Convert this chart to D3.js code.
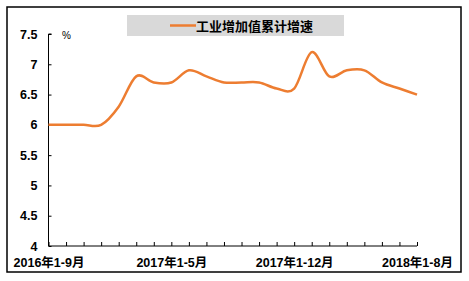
<!DOCTYPE html>
<html>
<head>
<meta charset="utf-8">
<script src="https://cdn.jsdelivr.net/npm/d3@7"></script>
<style>
  body { margin: 0; background: #fff; }
  svg { display: block; }
</style>
</head>
<body>
<svg></svg>
<script>
const w = 469;
const h = 281;

// data
const categories = [
    '2016年1-9月', '2016年1-10月', '2016年1-11月', '2016年1-12月',
    '2017年1-2月', '2017年1-3月', '2017年1-4月', '2017年1-5月', '2017年1-6月',
    '2017年1-7月', '2017年1-8月', '2017年1-9月', '2017年1-10月', '2017年1-11月',
    '2017年1-12月',
    '2018年1-2月', '2018年1-3月', '2018年1-4月', '2018年1-5月', '2018年1-6月',
    '2018年1-7月', '2018年1-8月'
];
const growth = [6.0, 6.0, 6.0, 6.0, 6.3, 6.8, 6.7, 6.7, 6.9, 6.8, 6.7, 6.7, 6.7, 6.6, 6.6,
    7.2, 6.8, 6.9, 6.9, 6.7, 6.6, 6.5];
const shownLabels = ['2016年1-9月', '2017年1-5月', '2017年1-12月', '2018年1-8月'];
const yTicks = [4, 4.5, 5, 5.5, 6, 6.5, 7, 7.5];
const seriesName = '工业增加值累计增速';

const color = '#ED7D31';
const font = 'Arial, "Liberation Sans", "Noto Sans CJK SC", sans-serif';

const svg = d3.select('svg')
    .attr('width', w)
    .attr('height', h);

// outer border
svg.append('rect')
    .attr('x', 7).attr('y', 7)
    .attr('width', 454).attr('height', 265)
    .attr('fill', 'none')
    .attr('stroke', '#000')
    .attr('stroke-width', 1.5);

// scales
const xScale = d3.scalePoint()
    .domain(categories)
    .range([48.5, 417]);

const yScale = d3.scaleLinear()
    .domain([4, 7.5])
    .range([246, 34]);

// y-axis
const yAxis = d3.axisRight(yScale)
    .tickValues(yTicks)
    .tickSize(3)
    .tickFormat(d => d3.format('')(d));

const gy = svg.append('g')
    .attr('transform', 'translate(48.5,0)')
    .call(yAxis);
gy.select('.domain').attr('d', 'M3,34H0V246').attr('stroke', '#000');
gy.selectAll('.tick line').attr('stroke', '#000');
gy.selectAll('.tick text')
    .attr('x', -11)
    .attr('text-anchor', 'end')
    .attr('font-family', font)
    .attr('font-size', 12.5)
    .attr('font-weight', 'bold')
    .attr('fill', '#000');

// x-axis
const xAxis = d3.axisTop(xScale)
    .tickSize(4)
    .tickFormat(d => shownLabels.includes(d) ? d : '');

const gx = svg.append('g')
    .attr('transform', 'translate(0,246)')
    .call(xAxis);
gx.select('.domain').attr('d', 'M48.5,0H417').attr('stroke', '#000');
gx.selectAll('.tick line').attr('stroke', '#000');
gx.selectAll('.tick text')
    .attr('y', 17)
    .attr('dy', '0.32em')
    .attr('font-family', font)
    .attr('font-size', 12.5)
    .attr('font-weight', 'bold')
    .attr('fill', '#000');

// unit
svg.append('text')
    .attr('x', 62).attr('y', 39)
    .attr('font-family', font)
    .attr('font-size', 10)
    .attr('fill', '#000')
    .text('%');

// line
const line = d3.line()
    .x((d, i) => xScale(categories[i]))
    .y(d => yScale(d))
    .curve(d3.curveCardinal);

svg.append('path')
    .datum(growth)
    .attr('d', line)
    .attr('fill', 'none')
    .attr('stroke', color)
    .attr('stroke-width', 2.5);

// legend
const legend = svg.append('g');
legend.append('rect')
    .attr('x', 127).attr('y', 15)
    .attr('width', 217).attr('height', 21)
    .attr('fill', '#d9d9d9');
legend.append('line')
    .attr('x1', 170).attr('x2', 196)
    .attr('y1', 25.5).attr('y2', 25.5)
    .attr('stroke', color)
    .attr('stroke-width', 2.5);
legend.append('text')
    .attr('x', 196).attr('y', 26)
    .attr('dy', '0.35em')
    .attr('font-family', '"Noto Sans CJK SC", sans-serif')
    .attr('font-size', 13)
    .attr('font-weight', 'bold')
    .attr('fill', '#000')
    .text(seriesName);
</script>
</body>
</html>
